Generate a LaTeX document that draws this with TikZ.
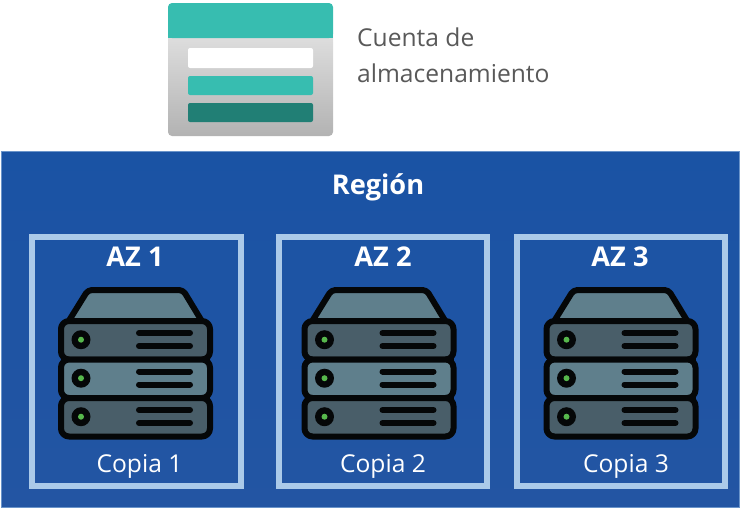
\documentclass[tikz,border=0pt]{standalone}
\usepackage{fontspec}
\setmainfont{Open Sans}
\definecolor{regionblue}{HTML}{1A53A4}
\definecolor{regionlow}{HTML}{2355A3}
\definecolor{azborder}{HTML}{ABCAE9}
\definecolor{teal1}{HTML}{37BDB0}
\definecolor{teal2}{HTML}{217F75}
\definecolor{srvdark}{HTML}{495E69}
\definecolor{srvlight}{HTML}{5F7F8C}
\definecolor{ledgreen}{HTML}{57B84C}
\definecolor{srvblack}{HTML}{050708}
\definecolor{labelgrey}{HTML}{595959}
\tikzset{
  x=1pt,y=-1pt,
  azbox/.style={draw=azborder,line width=6pt,fill=none,outer sep=0pt},
  bigtxt/.style={text=white,font=\fontsize{27.2}{30}\selectfont\bfseries,inner sep=0pt,anchor=base},
  smalltxt/.style={text=white,font=\fontsize{24.6}{28}\selectfont,inner sep=0pt,anchor=base},
  graytxt/.style={text=labelgrey,font=\fontsize{24.6}{28}\selectfont,inner sep=0pt,anchor=base west},
  srvline/.style={draw=srvblack,line width=6pt,line join=round},
  slot/.style={draw=srvblack,line width=6pt,line cap=round},
  bar/.style={rounded corners=2pt},
  pics/rowunit/.style={code={
    \draw[srvline,fill=#1,rounded corners=8pt] (3,0) rectangle (152,38.5);
    \fill[srvblack] (23,18.7) circle (9.5);
    \fill[ledgreen] (23,18.7) circle (3);
    \draw[slot] (81,12) -- (132,12);
    \draw[slot] (81,25) -- (132,25);
  }},
  pics/serverstack/.style={code={
    \draw[srvline,fill=srvlight,rounded corners=4pt] (9.5,36) -- (30,3) -- (125,3) -- (145,36) -- cycle;
    \fill[srvblack] (3,44) rectangle (152,140);
    \pic at (0,34) {rowunit=srvdark};
    \pic at (0,72.5) {rowunit=srvlight};
    \pic at (0,111) {rowunit=srvdark};
  }}
}
\begin{document}
\begin{tikzpicture}
\useasboundingbox (0,0) rectangle (741,509);
% region
\node[draw=azborder!55!regionblue,line width=.7pt,top color=regionblue,bottom color=regionlow,minimum width=738pt,minimum height=356pt,inner sep=0pt,outer sep=0pt,anchor=north west] (region) at (1,151) {};
\node[bigtxt] (regionlabel) at (378,194) {Región};
% storage card
\path[top color=white!88!black,bottom color=white!70!black,rounded corners=4pt] (168,30) rectangle (333,136);
\path[fill=teal1,rounded corners=4pt] (168,3) -- (333,3) -- (333,38) -- (168,38) -- cycle;
\fill[teal1] (168,30) rectangle (333,38);
\fill[white,bar] (188,48) rectangle (313,68);
\fill[teal1,bar] (188,76) rectangle (313,95);
\fill[teal2,bar] (188,103) rectangle (313,122);
\node[graytxt] (cuenta) at (357,46) {Cuenta de};
\node[graytxt] (almacen) at (357,82) {almacenamiento};
% availability zones
\foreach \n/\l/\r/\i/\tx/\cx in {1/32/241/58/135/139.5,2/279/487/301.5/383/383,3/517/725/543.5/620/626}{
  \node[azbox,minimum width=\r pt-\l pt,minimum height=249pt,inner sep=0pt,anchor=north west] (az\n) at (\l,237) {};
  \node[bigtxt] (azlabel\n) at (\tx,266) {AZ \n};
  \pic at (\i,287) {serverstack};
  \node[smalltxt] (copia\n) at (\cx,472) {Copia \n};
}
\end{tikzpicture}
\end{document}
